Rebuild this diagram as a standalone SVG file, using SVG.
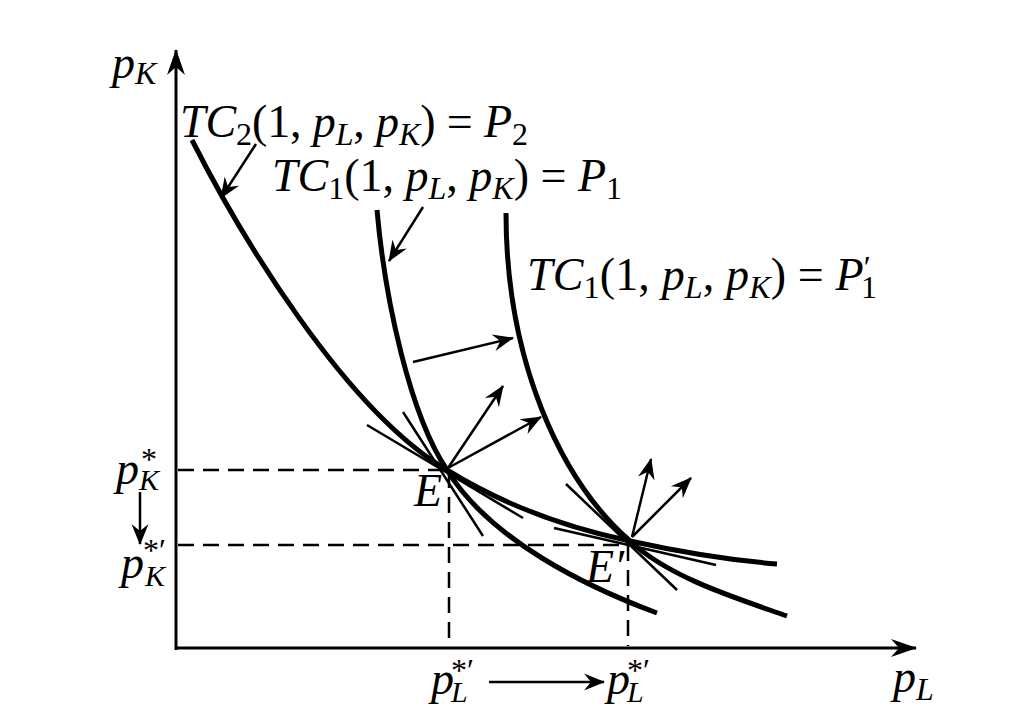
<svg xmlns="http://www.w3.org/2000/svg" width="1024" height="718" viewBox="0 0 1024 718">
<style>
.curve{fill:none;stroke:#000;stroke-width:5;stroke-linecap:butt}
.tan{fill:none;stroke:#000;stroke-width:2.5}
.ar{fill:none;stroke:#000;stroke-width:2.5}
.axis{fill:none;stroke:#000;stroke-width:3}
.dash{fill:none;stroke:#000;stroke-width:2.5;stroke-dasharray:16 9}
text{font-family:"Liberation Serif","DejaVu Serif",serif;font-size:46px;fill:#000}
.i{font-style:italic}
.s{font-size:32px}
.t{font-size:30px}
</style>
<defs>
<marker id="ah" markerUnits="userSpaceOnUse" markerWidth="24" markerHeight="20" refX="0" refY="0" viewBox="-22 -10 24 20" orient="auto">
<path d="M1,0 L-20,-8.5 L-13,0 L-20,8.5 Z" fill="#000"/>
</marker>
<marker id="axh" markerUnits="userSpaceOnUse" markerWidth="30" markerHeight="20" refX="0" refY="0" viewBox="-28 -10 30 20" orient="auto">
<path d="M1,0 L-25,-9 L-17,0 L-25,9 Z" fill="#000"/>
</marker>
</defs>
<rect width="1024" height="718" fill="#fff"/>
<g id="axes">
<line class="axis" x1="176" y1="650" x2="176" y2="50" marker-end="url(#axh)"/>
<line class="axis" x1="175" y1="648" x2="916" y2="648" marker-end="url(#axh)"/>
</g>
<g id="guides">
<line class="dash" x1="178" y1="470" x2="445" y2="470"/>
<line class="dash" x1="449" y1="472" x2="449" y2="646"/>
<line class="dash" x1="178" y1="545" x2="628" y2="545"/>
<line class="dash" x1="628" y1="545" x2="628" y2="646"/>
</g>
<g id="curve-TC2">
<path class="curve" d="M192,140 C240,235 345,410 447,470 C507,507 568,528 630,541 C680,552 728,560 777,564"/>
</g>
<g id="curve-TC1">
<path class="curve" d="M377,210 C385,300 410,415 447,470 C490,540 587,587 657,613"/>
</g>
<g id="curve-TC1p">
<path class="curve" d="M506,213 C506,360 560,480 630,541 C670,578 736,598 787,616"/>
</g>
<g id="tangents">
<line class="tan" x1="367" y1="425" x2="523" y2="518"/>
<line class="tan" x1="403" y1="412" x2="483" y2="536"/>
<line class="tan" x1="566" y1="484" x2="677" y2="590"/>
<line class="tan" x1="554" y1="528" x2="716" y2="565"/>
</g>
<g id="connectors">
<line class="ar" x1="448" y1="468" x2="503" y2="386" marker-end="url(#ah)"/>
<line class="ar" x1="448" y1="468" x2="541" y2="417" marker-end="url(#ah)"/>
<line class="ar" x1="632" y1="537" x2="651" y2="459" marker-end="url(#ah)"/>
<line class="ar" x1="632" y1="537" x2="691" y2="478" marker-end="url(#ah)"/>
<line class="ar" x1="413" y1="362" x2="513" y2="338" marker-end="url(#ah)"/>
<line class="ar" x1="256" y1="144" x2="221" y2="198" marker-end="url(#ah)"/>
<line class="ar" x1="423" y1="207" x2="389" y2="261" marker-end="url(#ah)"/>
<line class="ar" x1="140" y1="492" x2="140" y2="544" marker-end="url(#ah)"/>
<line class="ar" x1="489" y1="682" x2="604" y2="682" marker-end="url(#ah)"/>
</g>
<g id="label-pK">
<text x="112" y="78"><tspan class="i">p</tspan><tspan class="i s" dy="6">K</tspan></text>
</g>
<g id="label-TC2">
<text x="180" y="137" textLength="348" lengthAdjust="spacing"><tspan class="i">TC</tspan><tspan class="s" dy="8">2</tspan><tspan dy="-8">(1, </tspan><tspan class="i">p</tspan><tspan class="i s" dy="8">L</tspan><tspan dy="-8">, </tspan><tspan class="i">p</tspan><tspan class="i s" dy="8">K</tspan><tspan dy="-8">) = </tspan><tspan class="i">P</tspan><tspan class="s" dy="8">2</tspan></text>
</g>
<g id="label-TC1">
<text x="272" y="191" textLength="350" lengthAdjust="spacing"><tspan class="i">TC</tspan><tspan class="s" dy="8">1</tspan><tspan dy="-8">(1, </tspan><tspan class="i">p</tspan><tspan class="i s" dy="8">L</tspan><tspan dy="-8">, </tspan><tspan class="i">p</tspan><tspan class="i s" dy="8">K</tspan><tspan dy="-8">) = </tspan><tspan class="i">P</tspan><tspan class="s" dy="8">1</tspan></text>
</g>
<g id="label-TC1p">
<text x="527" y="290" textLength="350" lengthAdjust="spacing"><tspan class="i">TC</tspan><tspan class="s" dy="8">1</tspan><tspan dy="-8">(1, </tspan><tspan class="i">p</tspan><tspan class="i s" dy="8">L</tspan><tspan dy="-8">, </tspan><tspan class="i">p</tspan><tspan class="i s" dy="8">K</tspan><tspan dy="-8">) = </tspan><tspan class="i">P</tspan><tspan class="s" dy="-12">′</tspan><tspan class="s" dx="-10" dy="20">1</tspan></text>
</g>
<g id="label-E">
<text class="i" x="414" y="506">E</text>
</g>
<g id="label-Ep">
<text class="i" x="586" y="582">E′</text>
</g>
<g id="label-pKstar">
<text x="116" y="484"><tspan class="i">p</tspan><tspan class="s" x="141" y="470">*</tspan><tspan class="i t" x="139" y="490">K</tspan></text>
</g>
<g id="label-pKstarp">
<text x="121" y="578"><tspan class="i">p</tspan><tspan class="s" x="143" y="561">*′</tspan><tspan class="i t" x="145" y="586">K</tspan></text>
</g>
<g id="label-pLstar1">
<text x="431" y="694"><tspan class="i">p</tspan><tspan class="s" x="451" y="681">*′</tspan><tspan class="i t" x="451" y="702">L</tspan></text>
</g>
<g id="label-pLstar2">
<text x="607" y="694"><tspan class="i">p</tspan><tspan class="s" x="627" y="681">*′</tspan><tspan class="i t" x="627" y="702">L</tspan></text>
</g>
<g id="label-pL">
<text x="893" y="692"><tspan class="i">p</tspan><tspan class="i s" dy="8">L</tspan></text>
</g>
</svg>
